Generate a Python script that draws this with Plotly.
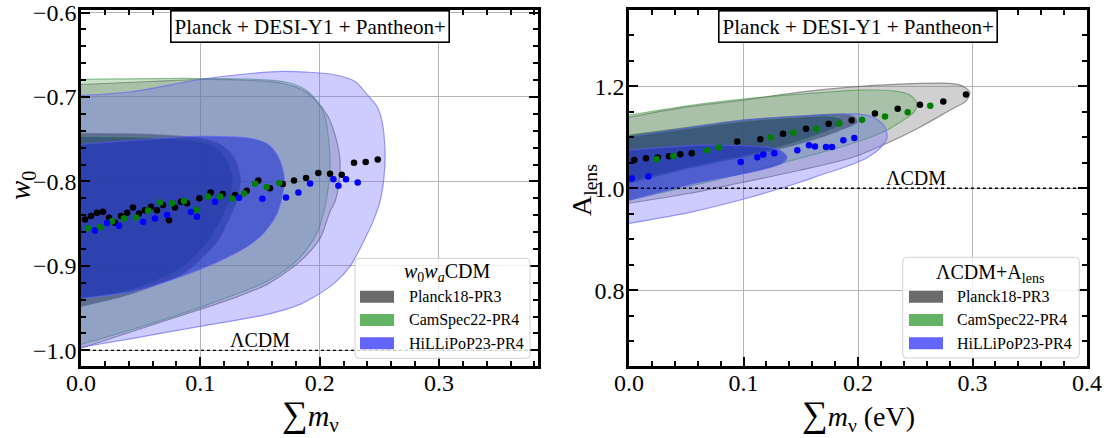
import plotly.graph_objects as go

W, H = 1108, 438
FONT = "'Liberation Serif', 'Times New Roman', Times, serif"

# ---------------- Left panel: w0waCDM (sum m_nu vs w0) ----------------
L_P18_2S_MNU = [0, 0.0578, 0.0997, 0.1417, 0.1693, 0.1878, 0.1978, 0.207, 0.2112, 0.2154, 0.2171, 0.2163, 0.2129, 0.2087, 0.2003, 0.1836, 0.1559, 0.1274, 0.0997, 0.0436, 0]
L_P18_2S_W0 = [-0.6852, -0.6817, -0.6793, -0.6805, -0.684, -0.6935, -0.7053, -0.7231, -0.7373, -0.7586, -0.7763, -0.8, -0.8237, -0.8355, -0.8675, -0.8947, -0.9219, -0.9385, -0.9515, -0.9775, -0.9976]
L_P18_1S_MNU = [0, 0.0578, 0.0997, 0.1165, 0.1274, 0.1333, 0.1316, 0.1249, 0.114, 0.0997, 0.0855, 0.0436, 0]
L_P18_1S_W0 = [-0.7432, -0.7444, -0.7491, -0.7562, -0.7704, -0.7941, -0.8178, -0.8414, -0.871, -0.8923, -0.9089, -0.9325, -0.9479]

L_CS_2S_MNU = [0, 0.0997, 0.1693, 0.1878, 0.1978, 0.2045, 0.207, 0.2087, 0.2079, 0.2045, 0.1978, 0.1819, 0.1559, 0.0997, 0.0436, 0]
L_CS_2S_W0 = [-0.6793, -0.6781, -0.6817, -0.6911, -0.7053, -0.7231, -0.7444, -0.7728, -0.8, -0.8296, -0.8615, -0.8923, -0.9183, -0.9491, -0.9751, -0.9929]
L_CS_1S_MNU = [0, 0.0578, 0.0997, 0.1148, 0.1232, 0.1274, 0.1257, 0.119, 0.1081, 0.0956, 0.083, 0.0436, 0]
L_CS_1S_W0 = [-0.7467, -0.7479, -0.7527, -0.761, -0.7763, -0.7941, -0.8178, -0.8414, -0.8686, -0.8888, -0.9041, -0.9278, -0.9396]

L_HL_2S_MNU = [0, 0.0436, 0.0997, 0.1417, 0.1693, 0.2112, 0.2297, 0.2397, 0.2481, 0.2523, 0.2548, 0.254, 0.2506, 0.2448, 0.2397, 0.2255, 0.2112, 0.1836, 0.1559, 0.0997, 0.0436, 0]
L_HL_2S_W0 = [-0.6982, -0.6935, -0.6793, -0.6722, -0.6698, -0.6734, -0.6817, -0.697, -0.7112, -0.729, -0.7645, -0.7941, -0.8237, -0.8473, -0.8627, -0.9006, -0.9219, -0.9456, -0.9574, -0.9716, -0.9858, -0.9964]
L_HL_1S_MNU = [0, 0.0436, 0.0997, 0.1417, 0.1567, 0.1651, 0.1702, 0.1685, 0.1643, 0.1542, 0.1417, 0.1207, 0.0997, 0.0721, 0.0436, 0]
L_HL_1S_W0 = [-0.7562, -0.7515, -0.7467, -0.7491, -0.7562, -0.7704, -0.7941, -0.8178, -0.8379, -0.8592, -0.8746, -0.8911, -0.9041, -0.9183, -0.9302, -0.9385]

L_P18_DOT_MNU = [0.0034, 0.0084, 0.0134, 0.0184, 0.0235, 0.0285, 0.0335, 0.0386, 0.0436, 0.0486, 0.0536, 0.0587, 0.0637, 0.0687, 0.0738, 0.0788, 0.0838, 0.0889, 0.0992, 0.1087, 0.1188, 0.1291, 0.1389, 0.1486, 0.1584, 0.1691, 0.1785, 0.1886, 0.1989, 0.2087, 0.2185, 0.2288, 0.2386, 0.2487]
L_P18_DOT_W0 = [-0.845, -0.841, -0.837, -0.836, -0.843, -0.849, -0.841, -0.837, -0.831, -0.838, -0.834, -0.830, -0.834, -0.828, -0.846, -0.831, -0.824, -0.826, -0.820, -0.813, -0.815, -0.816, -0.811, -0.799, -0.808, -0.803, -0.799, -0.796, -0.790, -0.791, -0.792, -0.778, -0.777, -0.774]
L_CS_DOT_MNU = [0.0059, 0.0159, 0.026, 0.036, 0.0461, 0.0562, 0.0662, 0.0763, 0.0863, 0.0964, 0.1065, 0.1165, 0.1266, 0.1366, 0.1459, 0.1556, 0.1662]
L_CS_DOT_W0 = [-0.8556, -0.8544, -0.8473, -0.8438, -0.8426, -0.8343, -0.8249, -0.826, -0.8233, -0.8339, -0.8178, -0.8178, -0.8201, -0.8142, -0.8028, -0.8067, -0.802]
L_HL_DOT_MNU = [0.0117, 0.0218, 0.0319, 0.052, 0.062, 0.0721, 0.0922, 0.0972, 0.1123, 0.1324, 0.152, 0.1718, 0.1822, 0.192, 0.2115, 0.2157, 0.2221, 0.2319]
L_HL_DOT_W0 = [-0.858, -0.8493, -0.8524, -0.8477, -0.8438, -0.8399, -0.8363, -0.8418, -0.824, -0.8193, -0.8205, -0.819, -0.813, -0.8024, -0.7973, -0.8051, -0.7973, -0.8012]

# ---------------- Right panel: LCDM+Alens (sum m_nu vs Alens) ----------------
R_P18_2S_MNU = [0, 0.0445, 0.0996, 0.1493, 0.193, 0.2367, 0.2716, 0.2891, 0.2978, 0.2943, 0.2803, 0.2541, 0.2253, 0.1956, 0.1493, 0.0996, 0.0533, 0]
R_P18_2S_AL = [1.1392, 1.1569, 1.1725, 1.1882, 1.198, 1.2039, 1.2059, 1.202, 1.1882, 1.1706, 1.1529, 1.1196, 1.0882, 1.0608, 1.0353, 1.0118, 0.9902, 0.9706]
R_P18_1S_MNU = [0, 0.0533, 0.0996, 0.1493, 0.1869, 0.1974, 0.1991, 0.1886, 0.1729, 0.1406, 0.1144, 0.0559, 0]
R_P18_1S_AL = [1.1039, 1.1196, 1.1333, 1.1412, 1.1451, 1.1392, 1.1294, 1.1176, 1.1039, 1.0824, 1.0686, 1.0412, 1.0098]

R_CS_2S_MNU = [0, 0.062, 0.0996, 0.1493, 0.2017, 0.2323, 0.2454, 0.2515, 0.2489, 0.2367, 0.2253, 0.1956, 0.1493, 0.0996, 0.0533, 0]
R_CS_2S_AL = [1.1431, 1.1647, 1.1745, 1.1843, 1.1922, 1.1902, 1.1824, 1.1667, 1.149, 1.1294, 1.1137, 1.0882, 1.0588, 1.0294, 1.0039, 0.9765]
R_CS_1S_MNU = [0, 0.0533, 0.0996, 0.1493, 0.1755, 0.186, 0.1825, 0.1668, 0.1406, 0.1144, 0.0559, 0]
R_CS_1S_AL = [1.102, 1.1176, 1.1314, 1.1392, 1.1412, 1.1353, 1.1216, 1.1059, 1.0863, 1.0706, 1.0431, 1.0118]

R_HL_2S_MNU = [0, 0.0996, 0.1493, 0.2017, 0.2148, 0.2236, 0.2253, 0.2192, 0.2087, 0.193, 0.1668, 0.1493, 0.0996, 0.0533, 0]
R_HL_2S_AL = [1.1, 1.1333, 1.1412, 1.1451, 1.1373, 1.1196, 1.098, 1.0784, 1.0608, 1.0451, 1.0255, 1.0118, 0.9784, 0.9529, 0.9314]
R_HL_1S_MNU = [0, 0.062, 0.1205, 0.1319, 0.138, 0.1336, 0.1144, 0.062, 0.0271, 0]
R_HL_1S_AL = [1.0745, 1.0843, 1.0804, 1.0745, 1.0608, 1.049, 1.0353, 1.0118, 0.9922, 0.9765]

R_P18_DOT_MNU = [0.0046, 0.0148, 0.0251, 0.0349, 0.0448, 0.0548, 0.0946, 0.1147, 0.1345, 0.1546, 0.1744, 0.1945, 0.2148, 0.2347, 0.2541, 0.2745, 0.2943]
R_P18_DOT_AL = [1.0555, 1.0588, 1.0602, 1.0627, 1.0667, 1.0686, 1.0916, 1.0961, 1.1065, 1.1163, 1.1261, 1.1333, 1.1465, 1.1555, 1.1633, 1.17, 1.1837]
R_CS_DOT_MNU = [0.0242, 0.0387, 0.0684, 0.0786, 0.1238, 0.1435, 0.1633, 0.1837, 0.2035, 0.2236, 0.2434, 0.2631]
R_CS_DOT_AL = [1.0569, 1.0633, 1.0745, 1.0798, 1.0994, 1.1092, 1.1163, 1.1269, 1.1339, 1.1406, 1.149, 1.1614]
R_HL_DOT_MNU = [0.0024, 0.0169, 0.0976, 0.1121, 0.1173, 0.1269, 0.147, 0.1572, 0.1624, 0.1721, 0.1773, 0.1872, 0.1968]
R_HL_DOT_AL = [1.019, 1.0229, 1.0516, 1.0608, 1.066, 1.0686, 1.0745, 1.0843, 1.0817, 1.081, 1.081, 1.0941, 1.0986]

LCDM_W0 = -1.0
LCDM_ALENS = 1.0

LEGEND_NAMES = ["Planck18-PR3", "CamSpec22-PR4", "HiLLiPoP23-PR4"]
LEGEND_COLORS = ["#6b6b6b", "#64b264", "#6464ff"]
TITLE_TEXT = "Planck + DESI-Y1 + Pantheon+"

# styles
FILL2 = {"P18": "rgba(120,120,120,0.35)", "CS": "rgba(80,160,80,0.30)", "HL": "rgba(100,100,255,0.33)"}
FILL1 = {"P18": "rgba(35,35,45,0.65)", "CS": "rgba(15,70,35,0.65)", "HL": "rgba(35,50,210,0.60)"}
EDGE = {"P18": "rgba(90,90,90,0.6)", "CS": "rgba(70,150,70,0.6)", "HL": "rgba(90,90,250,0.6)"}
DOTC = {"P18": "black", "CS": "green", "HL": "blue"}

fig = go.Figure()


def contour(x, y, key, level, xa, ya):
    fill = FILL2[key] if level == 2 else FILL1[key]
    fig.add_trace(go.Scatter(x=x, y=y, mode="lines", fill="toself", fillcolor=fill,
                             line=dict(color=EDGE[key], width=1.2, shape="spline", smoothing=0.8),
                             hoverinfo="skip", showlegend=False, xaxis=xa, yaxis=ya))


def dots(x, y, key, xa, ya):
    fig.add_trace(go.Scatter(x=x, y=y, mode="markers",
                             marker=dict(color=DOTC[key], size=6.5, line=dict(width=0)),
                             showlegend=False, xaxis=xa, yaxis=ya))


# left panel contours
contour(L_P18_2S_MNU, L_P18_2S_W0, "P18", 2, "x", "y")
contour(L_P18_1S_MNU, L_P18_1S_W0, "P18", 1, "x", "y")
contour(L_CS_2S_MNU, L_CS_2S_W0, "CS", 2, "x", "y")
contour(L_CS_1S_MNU, L_CS_1S_W0, "CS", 1, "x", "y")
contour(L_HL_2S_MNU, L_HL_2S_W0, "HL", 2, "x", "y")
contour(L_HL_1S_MNU, L_HL_1S_W0, "HL", 1, "x", "y")
# right panel contours
contour(R_P18_2S_MNU, R_P18_2S_AL, "P18", 2, "x2", "y2")
contour(R_P18_1S_MNU, R_P18_1S_AL, "P18", 1, "x2", "y2")
contour(R_CS_2S_MNU, R_CS_2S_AL, "CS", 2, "x2", "y2")
contour(R_CS_1S_MNU, R_CS_1S_AL, "CS", 1, "x2", "y2")
contour(R_HL_2S_MNU, R_HL_2S_AL, "HL", 2, "x2", "y2")
contour(R_HL_1S_MNU, R_HL_1S_AL, "HL", 1, "x2", "y2")

XL_RANGE = [0, 0.383]
YL_RANGE = [-1.018, -0.597]
XR_RANGE = [0, 0.4]
YR_RANGE = [0.653, 1.349]

# LCDM reference lines
fig.add_trace(go.Scatter(x=XL_RANGE, y=[LCDM_W0, LCDM_W0], mode="lines",
                         line=dict(color="black", width=1.3, dash="dot"),
                         showlegend=False, hoverinfo="skip", xaxis="x", yaxis="y"))
fig.add_trace(go.Scatter(x=XR_RANGE, y=[LCDM_ALENS, LCDM_ALENS], mode="lines",
                         line=dict(color="black", width=1.3, dash="dot"),
                         showlegend=False, hoverinfo="skip", xaxis="x2", yaxis="y2"))

# dots
dots(L_P18_DOT_MNU, L_P18_DOT_W0, "P18", "x", "y")
dots(L_CS_DOT_MNU, L_CS_DOT_W0, "CS", "x", "y")
dots(L_HL_DOT_MNU, L_HL_DOT_W0, "HL", "x", "y")
dots(R_P18_DOT_MNU, R_P18_DOT_AL, "P18", "x2", "y2")
dots(R_CS_DOT_MNU, R_CS_DOT_AL, "CS", "x2", "y2")
dots(R_HL_DOT_MNU, R_HL_DOT_AL, "HL", "x2", "y2")


def px(v):
    return v / W


def py(v):
    return 1 - v / H


def axis(rng, dtick, tick0, minor_dtick, domain, anchor, standoff):
    return dict(range=rng, domain=domain, anchor=anchor, dtick=dtick, tick0=tick0,
                tickformat=".1f", showline=True, linecolor="black", linewidth=2.5,
                mirror="allticks", ticks="inside", ticklen=9, tickwidth=2, tickcolor="black",
                showgrid=True, gridcolor="#b5b5b5", gridwidth=1, zeroline=False,
                automargin=False, ticklabelstandoff=standoff, ticklabeloverflow="allow",
                tickfont=dict(family=FONT, size=24, color="black"),
                minor=dict(ticks="inside", ticklen=5, tickwidth=1.5, tickcolor="black",
                           dtick=minor_dtick, tick0=tick0, showgrid=False))


YDOM = [py(365.5), py(10)]
fig.update_layout(
    width=W, height=H, margin=dict(l=0, r=0, t=0, b=0, pad=0, autoexpand=False),
    paper_bgcolor="white", plot_bgcolor="white", showlegend=False,
    font=dict(family=FONT, color="black"),
    xaxis=axis(XL_RANGE, 0.1, 0, 0.02, [px(81), px(538)], "y", -6),
    yaxis=axis(YL_RANGE, 0.1, -1.0, 0.02, YDOM, "x", -3),
    xaxis2=axis(XR_RANGE, 0.1, 0, 0.02, [px(629), px(1087)], "y2", -6),
    yaxis2=axis(YR_RANGE, 0.2, 0.8, 0.05, YDOM, "x2", -3),
)

ann = []
shapes = []

# title boxes
for cx in (310, 858):
    ann.append(dict(x=px(cx), y=py(26.5), xref="paper", yref="paper", text=TITLE_TEXT,
                    showarrow=False, xanchor="center", yanchor="middle",
                    font=dict(family=FONT, size=21, color="black"),
                    bgcolor="white", bordercolor="black", borderwidth=1.6, borderpad=3))

SUM = "<span style='font-size:36px'>∑</span>"
# axis titles
ann.append(dict(x=px(310), y=py(415), xref="paper", yref="paper",
                text=SUM + "<i>m</i><sub>ν</sub>", showarrow=False, xanchor="center", yanchor="middle",
                font=dict(family=FONT, size=30, color="black")))
ann.append(dict(x=px(858), y=py(415), xref="paper", yref="paper",
                text=SUM + "<i>m</i><sub>ν</sub> (eV)", showarrow=False, xanchor="center", yanchor="middle",
                font=dict(family=FONT, size=28, color="black")))
ann.append(dict(x=px(22), y=py(186), xref="paper", yref="paper",
                text="<i>w</i><sub>0</sub>", showarrow=False, textangle=-90,
                xanchor="center", yanchor="middle", font=dict(family=FONT, size=29, color="black")))
ann.append(dict(x=px(583), y=py(190), xref="paper", yref="paper",
                text="A<sub>lens</sub>", showarrow=False, textangle=-90,
                xanchor="center", yanchor="middle", font=dict(family=FONT, size=28, color="black")))

# LCDM labels
ann.append(dict(x=0.150, y=-0.988, xref="x", yref="y", text="ΛCDM", showarrow=False,
                xanchor="center", yanchor="middle", font=dict(family=FONT, size=20, color="black")))
ann.append(dict(x=0.251, y=1.021, xref="x2", yref="y2", text="ΛCDM", showarrow=False,
                xanchor="center", yanchor="middle", font=dict(family=FONT, size=20, color="black")))


def rounded_box(x0, y0, x1, y1, r=4):
    rx, ry = r / W, r / H
    X0, X1 = px(x0), px(x1)
    Y0, Y1 = py(y1), py(y0)
    path = (f"M {X0+rx},{Y0} L {X1-rx},{Y0} Q {X1},{Y0} {X1},{Y0+ry} L {X1},{Y1-ry} "
            f"Q {X1},{Y1} {X1-rx},{Y1} L {X0+rx},{Y1} Q {X0},{Y1} {X0},{Y1-ry} "
            f"L {X0},{Y0+ry} Q {X0},{Y0} {X0+rx},{Y0} Z")
    return dict(type="path", path=path, xref="paper", yref="paper",
                fillcolor="rgba(255,255,255,0.8)", line=dict(color="#d0d0d0", width=1), layer="above")


def legend(box, title, title_xy, sw_x, text_x, rows):
    shapes.append(rounded_box(*box))
    ann.append(dict(x=px(title_xy[0]), y=py(title_xy[1]), xref="paper", yref="paper", text=title,
                    showarrow=False, xanchor="center", yanchor="middle",
                    font=dict(family=FONT, size=20, color="black")))
    for name, col, ry in zip(LEGEND_NAMES, LEGEND_COLORS, rows):
        shapes.append(dict(type="rect", xref="paper", yref="paper",
                           x0=px(sw_x[0]), x1=px(sw_x[1]), y0=py(ry + 6), y1=py(ry - 6),
                           fillcolor=col, line=dict(width=0), layer="above"))
        ann.append(dict(x=px(text_x), y=py(ry), xref="paper", yref="paper", text=name,
                        showarrow=False, xanchor="left", yanchor="middle",
                        font=dict(family=FONT, size=16, color="black")))


legend((355, 258.3, 530, 358.3), "<i>w</i><sub>0</sub><i>w</i><sub><i>a</i></sub>CDM", (446.7, 272.3),
       (360, 394), 407, (296.7, 320, 343.3))
legend((902.7, 257.3, 1079.3, 358), "ΛCDM+A<sub>lens</sub>", (990, 273.3),
       (909, 943), 955, (296.7, 320, 343.3))

fig.update_layout(annotations=ann, shapes=shapes)
fig.write_html("out.html")
